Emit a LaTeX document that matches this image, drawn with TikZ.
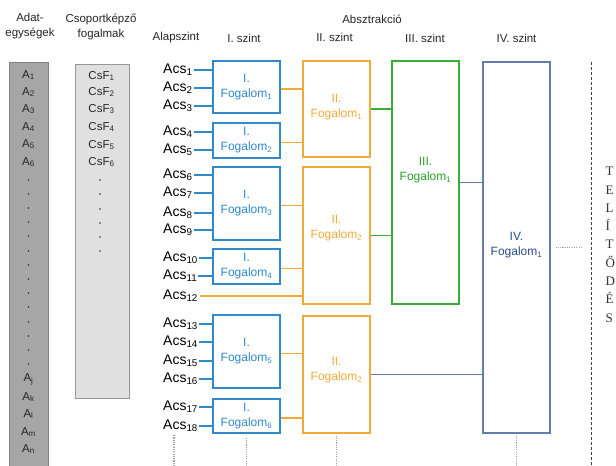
\documentclass[tikz,border=0pt]{standalone}
\usepackage{fontspec}
\setmainfont{Liberation Sans}
\newfontfamily\betuserif{Liberation Serif}
\usepackage{tikz}

\definecolor{szintI}{RGB}{47,137,204}
\definecolor{szintII}{RGB}{242,170,55}
\definecolor{szintIII}{RGB}{55,175,55}
\definecolor{szintIIIszov}{RGB}{40,160,40}
\definecolor{szintIV}{RGB}{100,125,175}
\definecolor{szintIVszov}{RGB}{45,75,140}
\definecolor{adatszurke}{RGB}{166,166,166}
\definecolor{adatkeret}{RGB}{130,130,130}
\definecolor{csfszurke}{RGB}{224,224,224}
\definecolor{csfkeret}{RGB}{150,150,150}

\begin{document}
\begin{tikzpicture}[x=1pt, y=-1pt,
	fej/.style={
		font=\fontsize{11.5}{15}\selectfont, align=center,
		inner sep=0, text=black!85
	},
	elem/.style={
		font=\fontsize{11.5}{13}\selectfont, inner sep=0, text=black!85
	},
	acs/.style={
		font=\fontsize{14}{16}\selectfont, anchor=west, inner sep=0
	},
	fogbox/.style={
		rectangle, draw, line width=1.1pt, minimum width=67,
		align=center, inner sep=0, font=\fontsize{12}{15}\selectfont
	},
	boxI/.style={fogbox, draw=szintI, text=szintI},
	boxII/.style={fogbox, draw=szintII},
	boxIII/.style={fogbox, draw=szintIII},
	boxIV/.style={fogbox, draw=szintIV},
	szovII/.style={align=center, text=szintII, font=\fontsize{12}{15}\selectfont},
	szovIII/.style={align=center, text=szintIIIszov, font=\fontsize{12}{15}\selectfont},
	szovIV/.style={align=center, text=szintIVszov, font=\fontsize{12}{15}\selectfont},
	wire/.style={line width=1.5pt},
	pontvonal/.style={gray!75, line width=1.3pt, dash pattern=on 1.1pt off 1.2pt},
	szaggatott/.style={black!75, line width=0.9pt, dash pattern=on 3pt off 2pt}
	]
	
	\fill[white] (0,0) rectangle (616,466);
	\useasboundingbox (0,0) rectangle (616,466);
	
	% headers
	\node[fej] (adatfej) at (30,26.5) {Adat-\\egységek};
	\node[fej] (csffej) at (101,26.5) {Csoportképző\\fogalmak};
	\node[fej] (absz) at (372,19) {Absztrakció};
	\node[fej] (alap) at (176,38) {Alapszint};
	\node[fej] (szI) at (244,38) {I. szint};
	\node[fej] (szII) at (334.5,37) {II. szint};
	\node[fej] (szIII) at (425,38) {III. szint};
	\node[fej] (szIV) at (516.5,38) {IV. szint};
	
	% data units column
	\filldraw[fill=adatszurke, draw=adatkeret, line width=0.8pt] (9,62) rectangle (48,470);
	\foreach \y [count=\i] in {75,92,109,127,144,162}
		\node[elem] (a\i) at (28.5,\y) {A\textsubscript{\i}};
	\foreach \y in {180,194,208,222,236,251,265,279,293,307,322,336,350,364}
		\fill[black!80] (28.5,\y) circle (0.8);
	\foreach \s/\y in {j/379,k/397,l/414,m/432,n/449}
		\node[elem] (a\s) at (28.5,\y) {A\textsubscript{\s}};
	
	% grouping concepts column
	\filldraw[fill=csfszurke, draw=csfkeret, line width=0.8pt] (75,64) rectangle (129,398);
	\foreach \y [count=\i] in {76,92,109,127,145,162}
		\node[elem] (csf\i) at (101.5,\y) {CsF\textsubscript{\i}};
	\foreach \y in {180,194,209,223,237,251}
		\fill[black!80] (100,\y) circle (0.8);
	
	% base level
	\foreach \y [count=\i] in {70,88,106,132,150,175,193,213,230,258,276,296,324,342,361,379,407,426}
		\node[acs] (acs\i) at (163,\y) {Acs\textsubscript{\i}};
	
	% level I
	\node[boxI, minimum height=52] (fI1) at (246.5,87) {I.\\Fogalom\textsubscript{1}};
	\node[boxI, minimum height=35] (fI2) at (246.5,140.5) {I.\\Fogalom\textsubscript{2}};
	\node[boxI, minimum height=73] (fI3) at (246.5,203.5) {I.\\Fogalom\textsubscript{3}};
	\node[boxI, minimum height=35] (fI4) at (246.5,266.5) {I.\\Fogalom\textsubscript{4}};
	\node[boxI, minimum height=73] (fI5) at (246.5,351.5) {I.\\Fogalom\textsubscript{5}};
	\node[boxI, minimum height=34] (fI6) at (246.5,416) {I.\\Fogalom\textsubscript{6}};
	
	% level II
	\node[boxII, minimum height=96,
		label={[szovII, yshift=2pt]center:{II.\\Fogalom\textsubscript{1}}}] (fII1) at (336.5,109) {};
	\node[boxII, minimum height=137,
		label={[szovII, yshift=7pt]center:{II.\\Fogalom\textsubscript{2}}}] (fII2) at (336.5,235.5) {};
	\node[boxII, minimum height=117,
		label={[szovII, yshift=4pt]center:{II.\\Fogalom\textsubscript{2}}}] (fII3) at (336.5,374.5) {};
	
	% level III
	\node[boxIII, minimum height=243,
		label={[szovIII, yshift=12pt]center:{III.\\Fogalom\textsubscript{1}}}] (fIII1) at (425.5,182.5) {};
	
	% level IV
	\node[boxIV, minimum height=371,
		label={[szovIV, yshift=2pt]center:{IV.\\Fogalom\textsubscript{1}}}] (fIV1) at (516.5,247.5) {};
	
	% base level -> level I
	\foreach \i/\b in {1/fI1,2/fI1,3/fI1,4/fI2,5/fI2,6/fI3,7/fI3,8/fI3,9/fI3,
		10/fI4,11/fI4,13/fI5,14/fI5,15/fI5,16/fI5,17/fI6,18/fI6}
		\draw[wire, szintI, shorten <=1pt] (acs\i.east) -- (acs\i.east -| \b.west);
	\draw[wire, szintII, shorten <=2pt] (acs12.east) -- (acs12.east -| fII2.west);
	
	% level I -> level II
	\foreach \a/\b in {fI1/fII1,fI2/fII1,fI3/fII2,fI4/fII2,fI5/fII3,fI6/fII3}
		\draw[wire, szintII] ([yshift=-2pt]\a.east) -- ([yshift=-2pt]\a.east -| \b.west);
	
	% level II -> level III -> level IV
	\draw[wire, szintIII] (fII1.east) -- (fII1.east -| fIII1.west);
	\draw[wire, szintIII] (fII2.east) -- (fII2.east -| fIII1.west);
	\draw[wire, szintIV] (fIII1.east) -- (fIII1.east -| fIV1.west);
	\draw[wire, szintIV] (fII3.east) -- (fII3.east -| fIV1.west);
	
	% continuation below
	\coordinate (alja) at (0,466);
	\coordinate (acsveg) at ([xshift=11pt]acs18.south west);
	\draw[pontvonal] ([yshift=-3pt]acsveg) -- (acsveg |- alja);
	\draw[pontvonal] ([yshift=-4pt]fI6.south) -- (fI6.south |- alja);
	\draw[pontvonal] ([yshift=-2pt]fII3.south) -- (fII3.south |- alja);
	\draw[pontvonal] ([yshift=-2pt]fIV1.south) -- (fIV1.south |- alja);
	
	% saturation
	\coordinate (hatarfent) at (591,62);
	\coordinate (hatarlent) at (591,466);
	\draw[szaggatott] (hatarfent) -- (hatarlent);
	\draw[pontvonal, shorten <=5pt, shorten >=8pt] (fIV1.east) -- (fIV1.east -| hatarfent);
	\node[font=\betuserif\fontsize{13}{18.3}\selectfont, align=left, anchor=north west,
		inner sep=0, text=black!80] (telites) at (605.5,167) {T\\E\\L\\Í\\T\\Ő\\D\\É\\S};
\end{tikzpicture}
\end{document}
